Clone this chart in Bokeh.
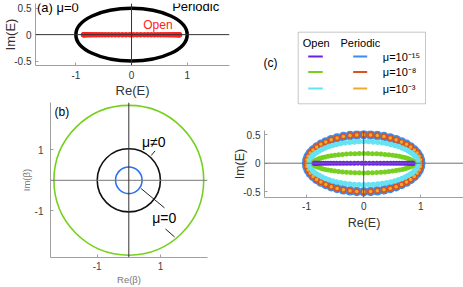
from bokeh.plotting import figure
from bokeh.layouts import row, column
from bokeh.models import Range1d, Span, Label, FixedTicker, BoxAnnotation, AllLabels
from bokeh.embed import file_html
from bokeh.resources import INLINE

# ---------------------------------------------------------------- data
# open-boundary spectrum for mu ~ 0 : all eigenvalues on the real axis
open_re = [-0.863, -0.856, -0.843, -0.826, -0.803, -0.776, -0.744, -0.708, -0.668, -0.624,
           -0.576, -0.525, -0.471, -0.414, -0.354, -0.293, -0.230, -0.165, -0.099, -0.033,
           0.033, 0.099, 0.165, 0.230, 0.293, 0.354, 0.414, 0.471, 0.525, 0.576,
           0.624, 0.668, 0.708, 0.744, 0.776, 0.803, 0.826, 0.843, 0.856, 0.863]
open_im = [0.0, 0.0, 0.0, 0.0, 0.0, 0.0, 0.0, 0.0, 0.0, 0.0,
           0.0, 0.0, 0.0, 0.0, 0.0, 0.0, 0.0, 0.0, 0.0, 0.0,
           0.0, 0.0, 0.0, 0.0, 0.0, 0.0, 0.0, 0.0, 0.0, 0.0,
           0.0, 0.0, 0.0, 0.0, 0.0, 0.0, 0.0, 0.0, 0.0, 0.0]

# periodic spectrum (same for every mu)
pbc_re = [1.0, 0.993, 0.971, 0.935, 0.886, 0.823, 0.749, 0.663, 0.568, 0.465, 0.355, 0.239, 0.121, 0.0,
          -0.121, -0.239, -0.355, -0.465, -0.568, -0.663, -0.749, -0.823, -0.886, -0.935, -0.971, -0.993, -1.0,
          -0.993, -0.971, -0.935, -0.886, -0.823, -0.749, -0.663, -0.568, -0.465, -0.355, -0.239, -0.121, 0.0,
          0.121, 0.239, 0.355, 0.465, 0.568, 0.663, 0.749, 0.823, 0.886, 0.935, 0.971, 0.993]
pbc_im = [0.0, 0.060, 0.120, 0.177, 0.232, 0.284, 0.332, 0.374, 0.412, 0.443, 0.468, 0.485, 0.496, 0.500,
          0.496, 0.485, 0.468, 0.443, 0.412, 0.374, 0.332, 0.284, 0.232, 0.177, 0.120, 0.060, 0.0,
          -0.060, -0.120, -0.177, -0.232, -0.284, -0.332, -0.374, -0.412, -0.443, -0.468, -0.485, -0.496, -0.500,
          -0.496, -0.485, -0.468, -0.443, -0.412, -0.374, -0.332, -0.284, -0.232, -0.177, -0.120, -0.060]

# open-boundary spectrum, mu = 1e-8
open8_re = [0.880, 0.877, 0.867, 0.850, 0.827, 0.798, 0.762, 0.721, 0.674, 0.622, 0.566, 0.505, 0.440,
            0.372, 0.301, 0.228, 0.153, 0.077, 0.0,
            -0.077, -0.153, -0.228, -0.301, -0.372, -0.440, -0.505, -0.566, -0.622, -0.674, -0.721,
            -0.762, -0.798, -0.827, -0.850, -0.867, -0.877, -0.880,
            -0.877, -0.867, -0.850, -0.827, -0.798, -0.762, -0.721, -0.674, -0.622, -0.566, -0.505,
            -0.440, -0.372, -0.301, -0.228, -0.153, -0.077, 0.0,
            0.077, 0.153, 0.228, 0.301, 0.372, 0.440, 0.505, 0.566, 0.622, 0.674, 0.721, 0.762,
            0.798, 0.827, 0.850, 0.867, 0.877]
open8_im = [0.0, 0.015, 0.030, 0.044, 0.058, 0.072, 0.085, 0.098, 0.109, 0.120, 0.130, 0.139, 0.147,
            0.154, 0.160, 0.164, 0.167, 0.169, 0.170,
            0.169, 0.167, 0.164, 0.160, 0.154, 0.147, 0.139, 0.130, 0.120, 0.109, 0.098, 0.085,
            0.072, 0.058, 0.044, 0.030, 0.015, 0.0,
            -0.015, -0.030, -0.044, -0.058, -0.072, -0.085, -0.098, -0.109, -0.120, -0.130, -0.139,
            -0.147, -0.154, -0.160, -0.164, -0.167, -0.169, -0.170,
            -0.169, -0.167, -0.164, -0.160, -0.154, -0.147, -0.139, -0.130, -0.120, -0.109, -0.098,
            -0.085, -0.072, -0.058, -0.044, -0.030, -0.015]

# open-boundary spectrum, mu = 1e-3
open3_re = [0.950, 0.946, 0.936, 0.918, 0.893, 0.861, 0.823, 0.778, 0.728, 0.672, 0.611, 0.545, 0.475,
            0.401, 0.325, 0.246, 0.165, 0.083, 0.0,
            -0.083, -0.165, -0.246, -0.325, -0.401, -0.475, -0.545, -0.611, -0.672, -0.728, -0.778,
            -0.823, -0.861, -0.893, -0.918, -0.936, -0.946, -0.950,
            -0.946, -0.936, -0.918, -0.893, -0.861, -0.823, -0.778, -0.728, -0.672, -0.611, -0.545,
            -0.475, -0.401, -0.325, -0.246, -0.165, -0.083, 0.0,
            0.083, 0.165, 0.246, 0.325, 0.401, 0.475, 0.545, 0.611, 0.672, 0.728, 0.778, 0.823,
            0.861, 0.893, 0.918, 0.936, 0.946]
open3_im = [0.0, 0.033, 0.066, 0.098, 0.130, 0.161, 0.190, 0.218, 0.244, 0.269, 0.291, 0.311, 0.329,
            0.344, 0.357, 0.367, 0.374, 0.379, 0.380,
            0.379, 0.374, 0.367, 0.357, 0.344, 0.329, 0.311, 0.291, 0.269, 0.244, 0.218, 0.190,
            0.161, 0.130, 0.098, 0.066, 0.033, 0.0,
            -0.033, -0.066, -0.098, -0.130, -0.161, -0.190, -0.218, -0.244, -0.269, -0.291, -0.311,
            -0.329, -0.344, -0.357, -0.367, -0.374, -0.379, -0.380,
            -0.379, -0.374, -0.367, -0.357, -0.344, -0.329, -0.311, -0.291, -0.269, -0.244, -0.218,
            -0.190, -0.161, -0.130, -0.098, -0.066, -0.033]

# (a) periodic spectrum outline (ellipse, full axes lengths)
pbc_cx = [0.0]
pbc_cy = [0.0]
pbc_w = [2.0]
pbc_h = [1.0]

# (b) generalized Brillouin zone radii: mu=1e-3 (green), mu!=0 (black), mu=0 (blue)
gbz_radius = [2.37, 1.0, 0.42]
gbz_x = [0.0, 0.0, 0.0]
gbz_y = [0.0, 0.0, 0.0]

# tick labels
e_xticks = [-1, 0, 1]
e_xlabels = ["-1", "0", "1"]
e_yticks = [-0.5, 0, 0.5]
e_ylabels = ["-0.5", "0", "0.5"]
b_ticks = [-1, 1]
b_labels = ["-1", "1"]

mu_labels = ["\u03bc=10\u207b\u00b9\u2075", "\u03bc=10\u207b\u2078", "\u03bc=10\u207b\u00b3"]

# ---------------------------------------------------------------- style
FONT = "Liberation Sans"
C_PURPLE = "#6b22e6"
C_GREEN = "#76d01f"
C_CYAN = "#66e2f2"
C_BLUE = "#3b8ef0"
C_RED = "#d9521f"
C_ORANGE = "#eeaa2a"
AX = "#a0a0a0"


def base_fig(w, h, xr, yr, ml, mr, mt, mb):
    p = figure(width=w, height=h, x_range=Range1d(*xr), y_range=Range1d(*yr),
               toolbar_location=None, output_backend="svg",
               min_border_left=ml, min_border_right=mr, min_border_top=mt, min_border_bottom=mb)
    p.outline_line_color = None
    p.grid.visible = False
    p.frame_align = False
    return p


def style_axes(p, xt, xl, yt, yl, xlabel, ylabel, lab_size, lab_color, tick_color,
               xstand, ystand, xls, yls):
    p.xaxis.ticker = FixedTicker(ticks=xt)
    p.xaxis.major_label_overrides = {t: s for t, s in zip(xt, xl)}
    p.yaxis.ticker = FixedTicker(ticks=yt)
    p.yaxis.major_label_overrides = {t: s for t, s in zip(yt, yl)}
    for ax in (p.xaxis, p.yaxis):
        ax.axis_line_color = AX
        ax.axis_line_width = 1
        ax.major_tick_line_color = AX
        ax.major_tick_in = 3
        ax.major_tick_out = 0
        ax.minor_tick_line_color = None
        ax.major_label_policy = AllLabels()
        ax.major_label_text_font = FONT
        ax.major_label_text_font_size = "10px"
        ax.major_label_text_color = tick_color
        ax.axis_label_text_font = FONT
        ax.axis_label_text_font_style = "normal"
        ax.axis_label_text_font_size = lab_size
        ax.axis_label_text_color = lab_color
    p.xaxis.axis_label = xlabel
    p.yaxis.axis_label = ylabel
    p.xaxis.major_label_standoff = xstand
    p.yaxis.major_label_standoff = ystand
    p.xaxis.axis_label_standoff = xls
    p.yaxis.axis_label_standoff = yls


def txt(p, x, y, s, size, color="black"):
    p.add_layout(Label(x=x, y=y, text=s, text_font=FONT, text_font_size=size,
                       text_color=color, text_baseline="middle", text_align="left"))

# ---------------------------------------------------------------- (a)
pa = base_fig(230, 100, (-1.725, 1.76), (-0.585, 0.59), 28, 1, 3, 30)
style_axes(pa, e_xticks, e_xlabels, e_yticks, e_ylabels, "Re(E)", "Im(E)",
           "13px", "#333333", "#333333", 5, 4, 1, -7)
pa.add_layout(Span(location=0, dimension="width", line_color="#333333", line_width=1))
pa.add_layout(Span(location=0, dimension="height", line_color="#333333", line_width=1))
pa.ellipse(x=pbc_cx, y=pbc_cy, width=pbc_w, height=pbc_h, fill_color=None,
           line_color="black", line_width=3.5)
pa.scatter(open_re, open_im, size=5.5, color="#ff2020", line_color=None)
txt(pa, -1.70, 0.52, "(a) \u03bc=0", "13px")
txt(pa, 0.73, 0.525, "Periodic", "13px")
txt(pa, 0.21, 0.19, "Open", "12px", color="#ff2020")

# ---------------------------------------------------------------- (b)
pb = base_fig(230, 187, (-2.478, 2.49), (-2.52, 2.54), 50, 23, 2, 25)
style_axes(pb, b_ticks, b_labels, b_ticks, b_labels, "Re(\u03b2)", "Im(\u03b2)",
           "9.5px", "#777777", "#444444", 4, 7, 1, 0)
pb.add_layout(Span(location=0, dimension="width", line_color="#777777", line_width=1))
pb.add_layout(Span(location=0, dimension="height", line_color="#333333", line_width=1))
pb.circle(x=gbz_x, y=gbz_y, radius=gbz_radius, fill_color=None,
          line_color=[C_GREEN, "#111111", "#2f6ff0"], line_width=1.6)
# leader lines of the annotations
pb.segment(x0=[0.71, 0.39, 1.16], y0=[0.81, -0.27, -1.59],
           x1=[0.83, 1.13, 1.45], y1=[0.96, -0.90, -1.85], line_color="#222222", line_width=1)
txt(pb, 0.42, 1.24, "\u03bc\u22600", "14px")
txt(pb, 0.74, -1.22, "\u03bc=0", "14px")
txt(pb, -2.35, 2.22, "(b)", "12px")

# ---------------------------------------------------------------- legend of panel (c)
pl = figure(width=233, height=120, x_range=Range1d(0, 233), y_range=Range1d(120, 0),
            toolbar_location=None, output_backend="svg", x_axis_location=None,
            y_axis_location=None, min_border_left=0, min_border_right=0,
            min_border_top=0, min_border_bottom=0)
pl.outline_line_color = None
pl.grid.visible = False
pl.frame_align = False
open_cols = [C_PURPLE, C_GREEN, C_CYAN]
per_cols = [C_BLUE, C_RED, C_ORANGE]
row_y = [56, 71.5, 88]
pl.segment(x0=[77.7] * 3, x1=[92.3] * 3, y0=row_y, y1=row_y, line_color=open_cols, line_width=2)
pl.segment(x0=[122.7] * 3, x1=[136.7] * 3, y0=row_y, y1=row_y, line_color=per_cols, line_width=2)
for s, yy in zip(mu_labels, row_y):
    txt(pl, 152.3, yy, s, "11px")
pl.add_layout(BoxAnnotation(left=67.7, right=195, top=31.7, bottom=103.3,
                            fill_color=None, line_color="#444444", line_width=1))
txt(pl, 72.3, 42.7, "Open", "11px")
txt(pl, 110, 42.7, "Periodic", "11px")
txt(pl, 33, 62, "(c)", "12px")

# ---------------------------------------------------------------- (c)
pc = base_fig(233, 167, (-1.736, 1.747), (-0.602, 0.574), 31, 0, 10, 90)
style_axes(pc, e_xticks, e_xlabels, e_yticks, e_ylabels, "Re(E)", "Im(E)",
           "12.5px", "#333333", "#333333", 4, 4, 3, -7)
pc.add_layout(Span(location=0, dimension="width", line_color="#707070", line_width=1))
pc.add_layout(Span(location=0, dimension="height", line_color="#555555", line_width=1))
pc.scatter(pbc_re, pbc_im, size=9.5, color=C_BLUE, line_color=None)
pc.scatter(pbc_re, pbc_im, size=6.5, color=C_RED, line_color=None)
pc.scatter(pbc_re, pbc_im, size=3.5, color=C_ORANGE, line_color=None)
pc.scatter(open3_re, open3_im, size=5.5, color=C_CYAN, line_color=None)
pc.scatter(open8_re, open8_im, size=5, color=C_GREEN, line_color=None)
pc.scatter(open_re, open_im, size=5, color=C_PURPLE, line_color=None)

layout = row(column(pa, pb), column(pl, pc))

open("out.html", "w").write(file_html(layout, INLINE))
